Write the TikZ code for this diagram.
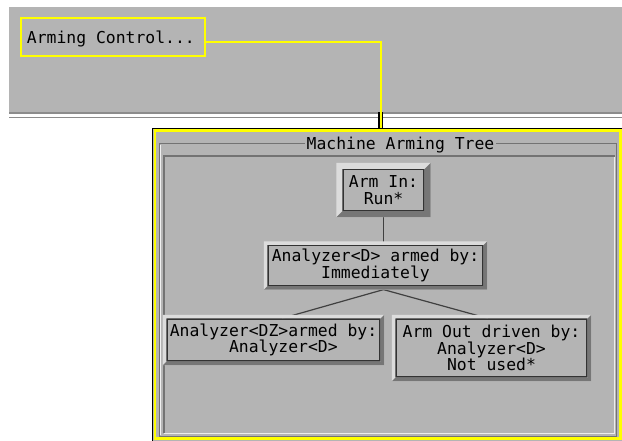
\documentclass[tikz,border=0pt]{standalone}
\usepackage{fontspec}
\setmonofont{DejaVu Sans Mono}
\definecolor{panel}{HTML}{B4B4B4}
\definecolor{hilite}{HTML}{DCDCDC}
\definecolor{shade}{HTML}{767676}
\definecolor{yel}{HTML}{FFFF00}

\begin{document}
\begin{tikzpicture}[x=1pt, y=-1pt, font=\ttfamily\fontsize{16.4}{16.6}\selectfont,
  box/.style={draw=black!80, line width=1.2pt, fill=panel, inner sep=0pt, align=center},
  wire/.style={draw=black!75, line width=1.2pt},
  ywire/.style={draw=yel, line width=2pt},
  hi/.style={fill=hilite},
  lo/.style={fill=shade},
  sep/.style={draw=black!45, line width=1.2pt},
  groove/.style={draw=black!55, line width=1pt}]
\useasboundingbox (0,0) rectangle (622,440);
% top panel
\fill[panel] (9,7) rectangle (622,112);
\draw[sep] (9,113) -- (622,113);
\draw[sep] (9,117.5) -- (622,117.5);
% lower panel
\draw[black, fill=panel, line width=1pt] (152.5,128.3) rectangle (623,441);
\draw[yel, line width=2.5pt] (155,130.7) rectangle (620.5,438.5);
\draw[groove] (159.5,143.5) rectangle (616.5,436);
\draw[white!80!panel, line width=0.8pt] (160.6,144.6) -- (160.6,435);
\draw[black!55, line width=2pt] (163.5,433) -- (163.5,156) -- (615,156);
\draw[white!75!panel, line width=1.2pt] (164,433.5) -- (614.5,433.5) -- (614.5,157);
\node[fill=panel, inner xsep=2pt, inner ysep=0pt] (ttl) at (400.5,145.5) {Machine Arming Tree};
% tree
\newcommand{\bevelbox}[2]{%
  \fill[hi, even odd rule] ([shift={(-#2,#2)}]#1.north west) rectangle ([shift={(#2,-#2)}]#1.south east)
    (#1.north west) rectangle (#1.south east);
  \fill[lo] ([shift={(#2,#2)}]#1.north east) -- ([shift={(#2,-#2)}]#1.south east)
    -- ([shift={(-#2,-#2)}]#1.south west) -- (#1.south west) -- (#1.south east) -- (#1.north east) -- cycle;}
\node[box, minimum width=81pt, minimum height=41pt] (armin) at (383.5,190) {Arm In:\\Run*};
\node[box, minimum width=215pt, minimum height=40pt] (immed) at (375.5,265.5) {Analyzer<D> armed by:\\Immediately};
\node[box, minimum width=213pt, minimum height=42pt, align=left] (lchild) at (273.5,340)
  {Analyzer<DZ>armed by:\\\hphantom{Analyz}Analyzer<D>};
\node[box, minimum width=191pt, minimum height=58pt] (rchild) at (491.5,348)
  {Arm Out driven by:\\Analyzer<D>\\Not used*};
\coordinate (fork) at ([yshift=-3.5pt]armin.south |- immed.south);
\draw[wire] (armin.south) -- (armin.south |- immed.north);
\draw[wire] ([xshift=8.5pt]lchild.north) -- (fork) -- ([xshift=-3.5pt]rchild.north);
\bevelbox{armin}{6pt}
\bevelbox{immed}{3.5pt}
\bevelbox{lchild}{3.5pt}
\bevelbox{rchild}{3.5pt}
% arming control button
\node[draw=yel, line width=2.5pt, fill=panel, inner xsep=6pt, minimum width=184pt, minimum height=38pt,
  text height=16pt] (armctl) at (113,37) {\makebox[172pt][l]{Arming Control...}};
\coordinate (drop) at (380.7,128);
\draw[black, line width=4.5pt] (380.7,112) -- (drop);
\draw[ywire] ([yshift=-4.7pt]armctl.east) -| (drop);
\end{tikzpicture}
\end{document}
